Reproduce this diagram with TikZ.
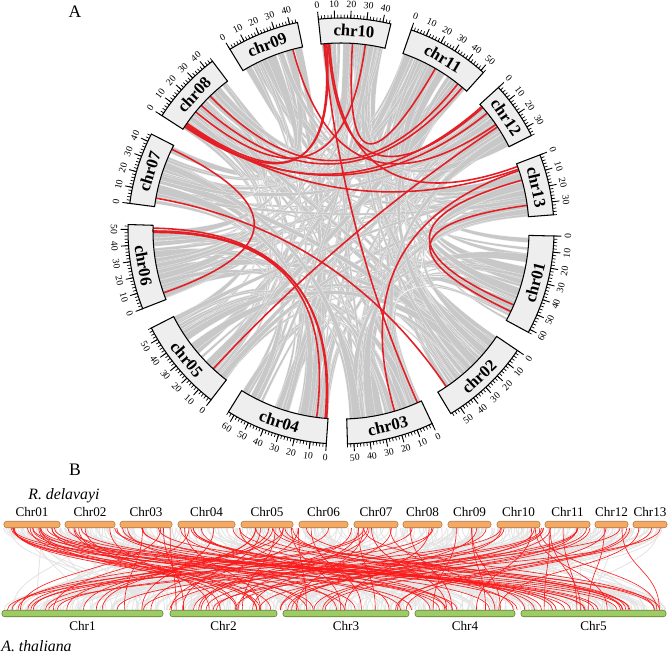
\documentclass[tikz,border=0pt]{standalone}
\usepackage{fontspec}
\setmainfont{Liberation Serif}
\usetikzlibrary{positioning}
\definecolor{boxgray}{RGB}{238,238,238}
\definecolor{ribbongray}{RGB}{200,200,200}
\definecolor{linkred}{RGB}{228,30,36}
\definecolor{synred}{RGB}{252,25,25}
\definecolor{syngray}{RGB}{228,228,228}
\definecolor{rdorange}{RGB}{244,170,100}
\definecolor{atgreen}{RGB}{156,204,98}
% chromosome start angles and lengths (chr01 ... chr13)
\def\chrstart{{-1.342,-34.105,-64.686,-93.957,-127.593,-158.61,-187.445,-212.788,-238.567,96.1,70.757,42.359,20.945}}
\def\chrlen{{62,57,54,64,58,53,45,46,45,45,52,36,38}}
\def\mb{0.4365}
\tikzset{
  ribbon/.style={fill=ribbongray, draw=white, line width=0.08pt},
  redlink/.style={draw=linkred, line width=0.9pt},
  chrbox/.style={fill=boxgray, draw=black, line width=0.6pt},
  chrname/.style={font=\fontsize{9.5}{10}\selectfont\bfseries, inner sep=0pt},
  ticklab/.style={font=\fontsize{5.5}{6}\selectfont, inner sep=0pt},
  synline/.style={draw=syngray, line width=0.5pt},
  synlink/.style={draw=synred, line width=0.35pt},
  rdbar/.style={fill=rdorange, draw=rdorange!70!black, line width=0.3pt, rounded corners=1.5pt, minimum height=0.13cm, inner sep=0pt},
  atbar/.style={fill=atgreen, draw=atgreen!60!black, line width=0.3pt, rounded corners=1.5pt, minimum height=0.13cm, inner sep=0pt},
  barlab/.style={font=\fontsize{7.5}{8}\selectfont, inner sep=0pt},
  species/.style={font=\fontsize{9}{10}\selectfont\itshape, inner sep=0pt, anchor=west},
  panel/.style={font=\fontsize{10}{11}\selectfont, inner sep=0pt}
}
\begin{document}
\begin{tikzpicture}[x=0.02cm, y=0.02cm]
\useasboundingbox (0,0) rectangle (669,-653);
\node[panel] (pa) at (75,-12) {A};

\begin{scope}[shift={(341,-231)}]
% gray links
\pgfmathsetseed{11}
\foreach \i in {1,...,215}{
  \pgfmathtruncatemacro\ca{random(0,12)}
  \pgfmathtruncatemacro\cb{mod(\ca+random(1,12),13)}
  \pgfmathsetmacro\wa{1.5+4.5*rnd}
  \pgfmathsetmacro\wb{\wa*(0.7+0.6*rnd)}
  \pgfmathsetmacro\aA{\chrstart[\ca]-(\chrlen[\ca]-\wa)*rnd*\mb}
  \pgfmathsetmacro\aB{\aA-\wa*\mb}
  \pgfmathsetmacro\bA{\chrstart[\cb]-(\chrlen[\cb]-\wb)*rnd*\mb}
  \pgfmathsetmacro\bB{\bA-\wb*\mb}
  \fill[ribbon] (\aA:188) arc[start angle=\aA, end angle=\aB, radius=188]
    .. controls (\aB:62.7) and (\bA:62.7) .. (\bA:188)
    arc[start angle=\bA, end angle=\bB, radius=188]
    .. controls (\bB:62.7) and (\aA:62.7) .. (\aA:188) -- cycle;
}
% red links
\foreach \ca/\pa/\cb/\pb in {10/2/3/3, 10/3/8/3, 10/4/8/5, 10/5/12/3, 10/6/13/2,
    10/22/11/25, 10/31/8/15, 9/38/12/18, 8/2/12/2, 8/3/12/8, 8/4/13/4,
    8/21/11/48, 11/44/8/30, 7/42/6/5, 7/6/2/50, 6/51/4/2, 6/49/4/1,
    6/48/4/8, 5/12/12/20, 13/5/3/20, 13/12/1/50, 13/30/1/55}{
  \pgfmathtruncatemacro\ia{\ca-1}
  \pgfmathtruncatemacro\ib{\cb-1}
  \pgfmathsetmacro\aA{\chrstart[\ia]-\pa*\mb}
  \pgfmathsetmacro\bA{\chrstart[\ib]-\pb*\mb}
  \draw[redlink] (\aA:188) .. controls (\aA:62.7) and (\bA:62.7) .. (\bA:188);
}
% chromosomes
\foreach \n/\a/\L in {01/-1.342/62, 02/-34.105/57, 03/-64.686/54, 04/-93.957/64,
    05/-127.593/58, 06/-158.61/53, 07/-187.445/45, 08/-212.788/46, 09/-238.567/45,
    10/96.1/45, 11/70.757/52, 12/42.359/36, 13/20.945/38}{
  \pgfmathsetmacro\chend{\a-\L*\mb}
  \pgfmathsetmacro\chmid{(\a+\chend)/2}
  \pgfmathsetmacro\rflip{sin(\chmid)>=0 ? -90 : 90}
  \draw[chrbox] (\a:188) arc[start angle=\a, end angle=\chend, radius=188]
    -- (\chend:213) arc[start angle=\chend, end angle=\a, radius=213] -- cycle;
  \node[chrname, rotate=\chmid+\rflip] (c\n) at (\chmid:200.5) {chr\n};
  % ticks
  \foreach \p in {0,2,...,\L}{
    \pgfmathsetmacro\tkang{\a-\p*\mb}
    \draw[line width=0.4pt] (\tkang:213) -- (\tkang:216.5);
  }
  \foreach \p in {0,10,...,\L}{
    \pgfmathsetmacro\tkang{\a-\p*\mb}
    \draw[line width=0.5pt] (\tkang:213) -- (\tkang:220.5);
    \node[ticklab, rotate=\tkang+\rflip] at (\tkang:227) {\p};
  }
}
\end{scope}

\node[panel] (pb) at (75,-470) {B};
\node[species] (rd) at (28,-496) {R. delavayi};
\node[species] (at) at (1,-646) {A. thaliana};

% gray synteny
\pgfmathsetseed{5}
\foreach \i in {1,...,340}{
  \pgfmathsetmacro\xa{3+663*rnd}
  \pgfmathsetmacro\xb{3+663*rnd}
  \draw[synline] (\xa,-528) .. controls (\xa,-569) and (\xb,-569) .. (\xb,-610);
}
% red synteny
\pgfmathsetseed{23}
\foreach \i in {1,...,115}{
  \pgfmathsetmacro\xa{6+658*rnd}
  \pgfmathsetmacro\xb{6+658*rnd}
  \draw[synlink] (\xa,-528) .. controls (\xa,-569) and (\xb,-569) .. (\xb,-610);
}
% R. delavayi
\foreach \n/\xa/\xb in {01/4/60, 02/65/115, 03/120/172, 04/178/235, 05/241/293,
    06/299/348, 07/354/398, 08/403/442, 09/448/491, 10/497/540, 11/545/590,
    12/595/628, 13/633/667}{
  \pgfmathsetmacro\bw{(\xb-\xa)*0.02}
  \node[rdbar, minimum width=\bw cm] (r\n) at ({(\xa+\xb)/2},-524.5) {};
  \node[barlab, above=2.5pt of r\n] {Chr\n};
}
% A. thaliana
\foreach \n/\xa/\xb in {1/2/163, 2/170/277, 3/283/409, 4/415/515, 5/521/666}{
  \pgfmathsetmacro\bw{(\xb-\xa)*0.02}
  \node[atbar, minimum width=\bw cm] (t\n) at ({(\xa+\xb)/2},-613.5) {};
  \node[barlab, below=2.5pt of t\n] {Chr\n};
}
\end{tikzpicture}
\end{document}
